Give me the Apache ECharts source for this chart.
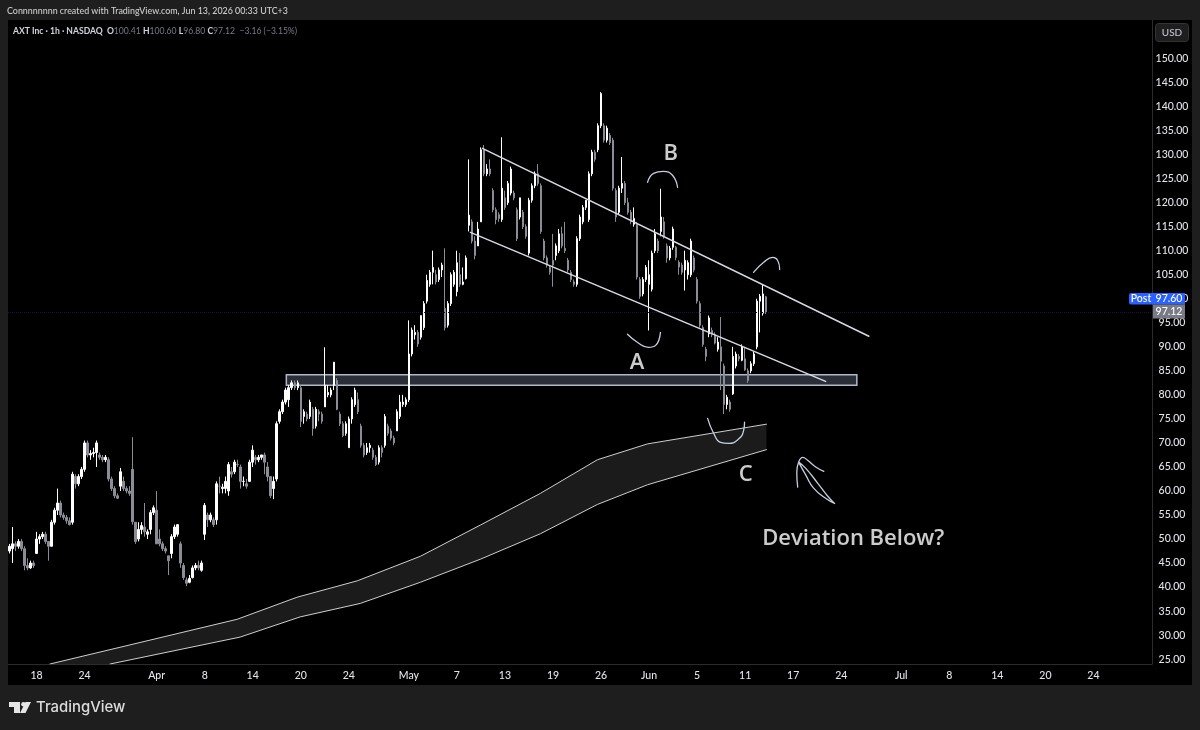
<!DOCTYPE html>
<html><head><meta charset="utf-8"><style>html,body{margin:0;padding:0;background:#1e1e1e}#c{width:1200px;height:730px}</style>
<script src="https://cdn.jsdelivr.net/npm/echarts@6/dist/echarts.min.js"></script></head><body><div id="c"></div>
<script>
const openP=[47.5,48,49,48.5,49.5,48,44.5,44,45,47,
50,50.5,51,49.5,48.5,53.5,56,57.5,55,54.5,
53.8,53.5,63,61.5,63,64.5,70,67.5,67.8,68,
67.5,67,66.5,66.5,62.5,60.5,59,61,62,60.5,
60,64.5,53.5,50,52,52.5,51,52,55.5,56,
50,49,48,46.5,47,50.5,51,49,44.5,41.5,
41,42,44,44.5,43.5,51,55,54,54,54,
61,60.5,60.5,60,64,64,65.5,65,62,61.5,
62,66,67,66.5,67,67.5,65,63,60.5,62.5,
74.5,76.5,78.5,79,81.5,82.5,81.5,81.5,75.5,76,
75.5,77,73.5,76.5,76,77.5,80,80,82,83,
76,74,72,69,75,78,79,73.5,69.5,68,
69,68.5,67,66,69,69.5,73.5,72.5,71,72.5,
75.5,78,78,79,88.5,92.5,93,92,94,99.5,
103,105.5,105,104,106,98,94.5,99,103,101.5,
105,103,104.2,115.3,116,112,111,116,131,126,
127,122.5,118.5,117.5,116.5,121,120,122,122,118.5,
117,118,115,109.5,120.5,123.5,126,123.5,112,108.5,
106.5,108,109,110,113.5,110.5,108,105.5,103.5,103,
112.5,116,119,116.5,126,130.5,131,136,136,133,
134,133,122.5,118,123,124,120,118,115.5,115.5,
104,101,104,103,102,110,112,114,116,111,
108.5,110.7,110.7,107.6,107,106,105,105,108.5,104,
99,94,89.5,92.7,93.4,92.5,89.5,90,86,78,
78.5,80.2,86,88,87.2,87.5,85,85,86.5,90,
99.5,97,100.41];
const closeP=[48.5,49,48.5,49.5,48,44.5,44,45,44.5,50,
50.5,51,49.5,48.5,53.5,56,57.5,55,54.5,53.8,
53,63.5,61.5,63,64.5,70,67.5,67.8,68,70,
67,66.5,67,62.5,60.5,59,58.5,64,60.5,60,
59.5,53.6,49.5,52,52.8,51.5,51.5,55.5,56.5,49,
49,48,47.5,45.5,50.5,52.5,53,45,42,40.8,
41.8,44,44.5,44,45,57,54,55,53,61.5,
61,60.8,62,65.5,63.5,66,65.5,62,62,61,
66,68.5,66.5,67,67.5,66,63,59,62,74,
76.5,78.5,81,81.5,82.5,81.5,82.5,74.5,76.5,75,
78.5,73,77,76,74.5,82,80.5,81,86.8,77,
74,71.5,74,75,79,81,76.5,69.5,67.5,69,
69.5,67,65.5,69,68,75.5,72,71,70,76.5,
78.5,78.5,79,88.5,93.5,93,90.6,96.5,99,103.8,
105.5,106.5,103.5,106,107,94,99,105,105.5,107.5,
103,103.5,108.5,117.4,112,109,114.5,131,126,127,
126,118.5,116.5,116.7,123,119,124,127,121,112.5,
121,115,113,120.5,123.5,126,124,114,108.5,107,
105.5,107,111,113.5,111,110,106,104,103,112.5,
117,119,120.5,126,130.5,129,136,142.7,133,135.5,
132.5,123,117,123,124,120,118,116,116.7,104.5,
100.5,104,106.5,105,109.5,113.5,110,117,113,108.5,
110.5,114.5,108.6,106.6,105.5,108,107.5,112,106,99.5,
94.5,90.5,88,96,92.5,90.8,91,87,78,79.5,
77,88,88.5,87.5,90,85.2,83,86.5,88.5,99.5,
100.5,101,97.12];
const lowP=[47,45,47.5,48,47.5,43.5,43.5,43.8,44,47,
49,50,49,45.5,48.5,53,55,54.5,54,53.2,
52.8,53,60.5,61,62.5,64,67,66.5,67,65,
66.5,66,66,62,60,58.5,58.3,60,60,59.5,
59,53,49,49.5,51,50.5,50,51,55,49,
48.5,47.5,47,42.5,46,50,50.5,44,41.5,40.2,
40.8,41.8,43.5,43.5,43.2,49.8,52.5,53.5,52.5,53,
59.5,59.5,59.5,59,62.8,63.5,65,60.5,61,60.5,
62,65,65.5,66,66.5,63.5,62,58.5,58.3,62,
74,76,78,77.5,81,81,81,73.3,74,74.5,
75,71.5,73,74.5,74,77.5,79.5,79.5,81,76.8,
73.5,71.2,71.5,69,74,77.5,76,69,67,67.5,
68,66.5,65.2,65.5,67,69,71.5,70.5,69.5,72.5,
75,77.5,77.5,78.5,88,91.5,90,91.5,93.5,99,
102.5,103,103,103.5,104.5,93.4,94,98.5,102.5,100.5,
102.5,102.8,104,114,111.5,108.2,111,116,125.5,125.5,
125.5,118,115.5,116,116,118.5,119.5,121.5,120.5,112,
116.5,114.5,112.5,109,120,123,123.5,113.5,108,106.5,
105,102.5,108,109.5,110.5,109.5,105.5,103.5,102.5,102.5,
112,115.5,118.5,116,125.5,128.5,130.5,135.5,132.5,132.5,
132,122.5,116,117.5,122,119.5,117.5,115.5,115,104,
100,100.5,103.5,93.4,101.5,109.5,109.5,113,112.5,107.5,
108,110.2,108,105,105,101.7,104,104.5,105.5,99,
94,90,87,92,92,90.5,89,81,76,77,
76.5,80,85.5,87,87,85,82.5,84.5,86,89.5,
93,96.5,96.8];
const highP=[49,52.5,49.5,50,50,48.5,46,45.5,45.5,51.5,
51,51.5,51.5,49.5,54,56.5,60.5,58,55.5,55,
54.5,64,63.5,63.5,65,70.5,70.5,68.5,69,70.5,
68,67.5,67.5,67,63,61,59.5,64.8,63,61,
61,71.2,53.5,53.5,53.5,57.5,52,56,57,60,
52,49.5,48.5,46.5,51,53,53,49.5,45,42,
42.5,44.5,45,45.5,45.5,57.5,55.5,55.5,54.5,62,
63,61.5,63,66,65,66.5,66.5,65.5,63,62.5,
66.5,69.5,67.5,67.5,67.5,68,66,63,63,74.5,
77,79,81.5,82,83,83,83,82,77,76.5,
79,77.5,77.5,77,76.5,89.9,82,81.5,86.8,83.5,
76.5,74.5,74.5,75.5,79.5,81.5,80.5,74,70,70,
70,69,67.5,69.5,69.5,76,74,73,71.5,77,
80,80,79.5,95.5,94,94.5,93.5,96.5,99.5,105,
106,110,106,106.5,107.5,110.5,99.5,105.5,106,110,
109.5,106.5,109,129,116.5,113,116,131.5,132,128,
129,123,119,118,133.6,122.5,124.5,127.5,122.5,119,
121,118.5,115.5,121,124,126.5,128,124,112.5,109,
107,113.5,111.5,114.5,115,116,108.5,106,104,113,
117.5,119.5,120.5,126.5,131,131,136.5,143,136.5,136,
134.5,133.5,123,123.5,129.5,124.5,121,118.5,119,116,
104.5,104.5,107,108,110,114.5,112.5,122.9,117,111.5,
111,115,111,108,107.5,110,108,112.5,109,104.5,
99.5,94.5,90,96.5,94,93,92,96.2,86.5,80,
79,90,89,88.5,90.5,90,85.5,87,89,100,
101,103,100.6];

const slotCount=381;
const firstDaySlot=9;
const slotsPerDay=4;
const dayTickDays=[0,4,10,14,18,22,26,31,35,39,43,47,51,55,59,63,67,72,76,80,84,88];
const dayTickLabels=['18','24','Apr','8','14','20','24','May','7','13','19','26','Jun','5','11','17','24','Jul','8','14','20','24'];
const priceTicks=[25,30,35,40,45,50,55,60,65,70,75,80,85,90,95,100,105,110,115,120,125,130,135,140,145,150];

const upperChannel=[[157.5,131.3],[286.2,92.2]];
const lowerChannel=[[153.5,113.8],[271.8,82.8]];
const zoneIdx=[92.2,282.2];
const zoneVal=[82,84.2];
const ribbonUpper=[[13.5,24],[75.8,33.3],[95.8,37.9],[115.8,41.3],[136.8,46.4],[156.8,52.9],[176.8,59.5],[195.8,66.5],[212.5,69.8],[252.1,73.9]];
const ribbonLower=[[33.5,24],[76.8,29.6],[96.8,33.8],[116.8,36.6],[136.8,41],[156.8,45.8],[176.8,51.1],[195.8,57.2],[212.5,61.3],[252.1,68.6]];
const strokeB=[[212.5,124.2],[214.5,126.1],[217.8,126.5],[220.8,125.7],[222.5,123.2]];
const strokePeak=[[247.8,105.5],[251.2,107.6],[254.2,108.6],[255.8,108],[256.5,106.1]];
const strokeA=[[205.8,92.6],[209.2,90.9],[212.8,89.9],[215.2,90.3],[216.8,93]];
const strokeC=[[232.5,75.1],[234.5,72],[236.8,70.1],[239.5,69.9],[242.8,70.8],[244.5,72.6],[244.8,74.3]];
const arrowHead=[[262.5,60.8],[262.2,63.9],[262.8,66],[264.2,67],[265.8,66.4],[268.5,65],[271.2,64.1]];
const arrowShaft=[[262.8,66],[265.2,63.3],[267.8,60.6],[271.8,58.5],[274.8,57.4],[272.8,58.7],[269.2,61.6],[265.2,64.7],[262.8,66]];
const noteLabels=[{t:'A',p:[209,86.6]},{t:'B',p:[220.2,130.2]},{t:'C',p:[245.2,63.4]},{t:'Deviation Below?',p:[281,50]}];

const FONT='Lato,"Open Sans",sans-serif';
const NOTE_FONT='"Open Sans",sans-serif';
const cats=[];
for(let i=0;i<slotCount;i++)cats.push('');
dayTickDays.forEach((d,k)=>{cats[firstDaySlot+slotsPerDay*d]=dayTickLabels[k];});
const candles=openP.map((o,i)=>[o,closeP[i],lowP[i],highP[i]]);

function stroke(data,color,width,smooth){
  return {type:'line',xAxisIndex:1,data,symbol:'none',smooth:smooth?0.5:false,z:6,silent:true,animation:false,
    lineStyle:{color,width,cap:'round',join:'round'}};
}
const INK='#c4cfe0';
const LINE='#d6dae3';
const chart=echarts.init(document.getElementById('c'),null,{renderer:'canvas'});
chart.setOption({
  animation:false,backgroundColor:'#1e1e1e',
  grid:{left:8,top:20,width:1144,height:644,containLabel:false},
  xAxis:[{type:'category',data:cats,boundaryGap:true,position:'bottom',
    axisLine:{show:true,lineStyle:{color:'#2b2b2b',width:1}},axisTick:{show:false},splitLine:{show:false},
    axisLabel:{show:true,interval:(i,v)=>v!=='',color:'#e2e4ea',fontSize:10.5,fontWeight:500,fontFamily:FONT,margin:6,hideOverlap:false}},
    {type:'value',min:-0.5,max:slotCount-0.5,show:false,splitLine:{show:false}}],
  yAxis:{type:'value',position:'right',min:24,max:158,scale:true,
    axisLine:{show:true,onZero:false,lineStyle:{color:'#2b2b2b',width:1}},axisTick:{show:false},splitLine:{show:false},
    axisLabel:{show:true,customValues:priceTicks,formatter:v=>v.toFixed(2),color:'#e2e4ea',fontSize:10.5,fontWeight:500,fontFamily:FONT,margin:20,align:'center',padding:[2,0,0,0]}},
  graphic:{elements:[
    {type:'rect',z:0,shape:{x:8,y:20,width:1184,height:665},style:{fill:'#000'}},
    {type:'text',z:50,style:{x:7,y:11,text:'Connnnnnnn created with TradingView.com, Jun 13, 2026 00:33 UTC+3',fill:'#cfcfcf',font:'500 8.9px '+FONT,verticalAlign:'middle'}},
    {type:'text',z:50,style:{x:13,y:31,rich:{b:{fill:'#d1d4dc',font:'bold 8.6px '+FONT},g:{fill:'#787b86',font:'8.6px '+FONT}},
      text:'{b|AXT Inc · 1h · NASDAQ  O}{g|100.41 }{b|H}{g|100.60 }{b|L}{g|96.80 }{b|C}{g|97.12  −3.16 (−3.15%)}',verticalAlign:'middle'}},
    {type:'rect',z:50,shape:{x:1155.5,y:23.5,width:33,height:18,r:3},style:{fill:'#1e1e1e',stroke:'#333',lineWidth:1}},
    {type:'text',z:51,style:{x:1172,y:32.5,text:'USD',fill:'#c0c3cc',font:'500 10px '+FONT,align:'center',verticalAlign:'middle'}},
    {type:'rect',z:100,shape:{x:1129,y:293,width:24,height:11.5,r:[2,0,0,2]},style:{fill:'#2962ff'}},
    {type:'rect',z:100,shape:{x:1153,y:293,width:32,height:11.5},style:{fill:'#2962ff'}},
    {type:'rect',z:100,shape:{x:1153,y:304.5,width:32,height:14},style:{fill:'#787b86'}},
    {type:'text',z:101,style:{x:1141,y:299,text:'Post',fill:'#fff',font:'500 10.5px '+FONT,align:'center',verticalAlign:'middle'}},
    {type:'text',z:101,style:{x:1169,y:299,text:'97.60',fill:'#fff',font:'500 10.5px '+FONT,align:'center',verticalAlign:'middle'}},
    {type:'text',z:101,style:{x:1169,y:312,text:'97.12',fill:'#fff',font:'500 10.5px '+FONT,align:'center',verticalAlign:'middle'}},
    {type:'polygon',z:50,shape:{points:[[9,702],[20,702],[20,713],[14,713],[14,707],[9,707]]},style:{fill:'#e6e6e6'}},
    {type:'circle',z:50,shape:{cx:23.5,cy:704.3,r:2.3},style:{fill:'#e6e6e6'}},
    {type:'polygon',z:50,shape:{points:[[25.5,702],[31,702],[25.5,713],[20,713]]},style:{fill:'#e6e6e6'}},
    {type:'text',z:50,style:{x:36,y:707.5,text:'TradingView',fill:'#dcdcdc',font:'500 14.9px Inter,'+FONT,verticalAlign:'middle'}}
  ]},
  series:[
    {type:'custom',xAxisIndex:1,z:2,clip:true,silent:true,data:[0],
      renderItem:(p,api)=>{
        const pts=ribbonUpper.map(a=>api.coord(a)).concat(ribbonLower.slice().reverse().map(a=>api.coord(a)));
        return {type:'polygon',shape:{points:pts},style:{fill:'#1b1b1b'}};
      }},
    {type:'custom',xAxisIndex:1,z:3,silent:true,data:[0],
      renderItem:(p,api)=>{
        const a=api.coord([zoneIdx[0],zoneVal[1]]),b=api.coord([zoneIdx[1],zoneVal[0]]);
        return {type:'rect',shape:{x:a[0],y:a[1],width:b[0]-a[0],height:b[1]-a[1]},style:{fill:'#2a2e39',stroke:'#aeb8c8',lineWidth:1.5}};
      }},
    stroke(ribbonUpper,'#cfcfcf',1,false),
    stroke(ribbonLower,'#cfcfcf',1,false),
    {type:'candlestick',xAxisIndex:0,z:4,data:candles,barWidth:2,silent:true,animation:false,
      itemStyle:{color:'#ffffff',color0:'#8a8d96',borderColor:'#ffffff',borderColor0:'#8a8d96',borderWidth:1},
      markLine:{silent:true,symbol:'none',animation:false,label:{show:false},lineStyle:{color:'#14143c',type:'dotted',width:1},data:[{yAxis:97.12}]}},
    stroke(upperChannel,LINE,1.5,false),
    stroke(lowerChannel,LINE,1.5,false),
    stroke(strokeB,INK,1.3,true),stroke(strokePeak,INK,1.3,true),stroke(strokeA,INK,1.3,true),stroke(strokeC,INK,1.3,true),
    stroke(arrowHead,INK,1.3,true),stroke(arrowShaft,INK,1.3,true),
    {type:'scatter',xAxisIndex:1,z:7,silent:true,symbolSize:0,data:noteLabels.map(n=>({value:n.p,name:n.t})),
      label:{show:true,position:'inside',formatter:o=>o.name,color:'#ffffff',fontSize:22,fontWeight:600,fontFamily:NOTE_FONT}}
  ]
});
</script></body></html>
